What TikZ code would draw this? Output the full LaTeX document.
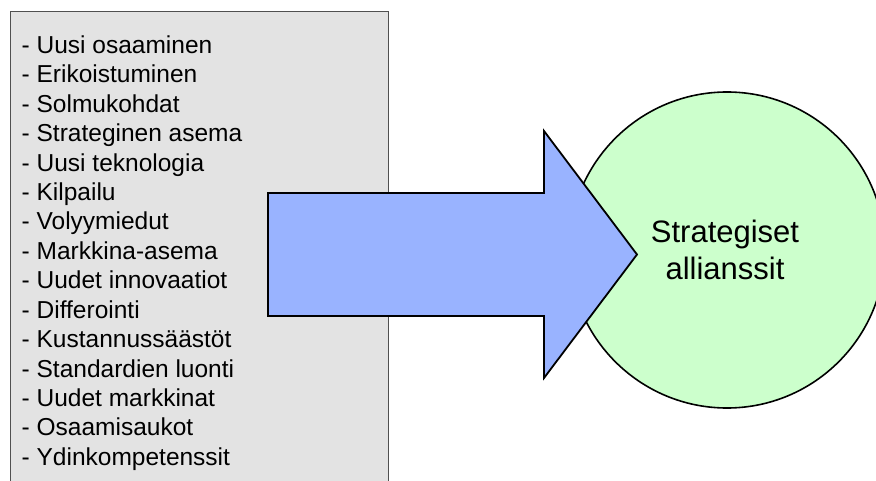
\documentclass[tikz,border=0pt]{standalone}
\usepackage{fontspec}
\setmainfont{Liberation Sans}
\definecolor{boxgray}{HTML}{E3E3E3}
\definecolor{boxedge}{HTML}{505050}
\definecolor{arrowblue}{HTML}{99B3FF}
\definecolor{circgreen}{HTML}{CCFFCC}
\begin{document}
\begin{tikzpicture}[x=1pt,y=-1pt,
  listbox/.style={draw=boxedge, fill=boxgray, line width=1pt, rectangle, inner sep=0pt, anchor=north west},
  itemtext/.style={anchor=base west, inner sep=0pt, font=\fontsize{24.5}{29}\selectfont},
  goalcircle/.style={circle, draw=black, fill=circgreen, line width=1.6pt, inner sep=0pt, minimum size=316pt},
  goaltext/.style={anchor=base, inner sep=0pt, font=\fontsize{31}{37}\selectfont},
  bigarrow/.style={draw=black, fill=arrowblue, line width=1.8pt, line join=miter}
]
\useasboundingbox (0,0) rectangle (876,481);
\clip (0,0) rectangle (876,481);
\node[listbox, minimum width=378pt, minimum height=490pt] (box) at (10,11) {};
\foreach \t [count=\i] in {Uusi osaaminen, Erikoistuminen, Solmukohdat, Strateginen asema, Uusi teknologia, Kilpailu, Volyymiedut, Markkina-asema, Uudet innovaatiot, Differointi, Kustannussäästöt, Standardien luonti, Uudet markkinat, Osaamisaukot, Ydinkompetenssit}
  \node[itemtext] (l\i) at (21.5, {53.3+(\i-1)*29.43}) {- \t};
\node[goalcircle] (ally) at (727,250) {};
\coordinate (a1) at (268,193);
\coordinate (a2) at (544,193);
\coordinate (a3) at (544,131);
\coordinate (tip) at (637,254.5);
\coordinate (a5) at (544,378);
\coordinate (a6) at (544,316);
\coordinate (a7) at (268,316);
\draw[bigarrow] (a1) -- (a2) -- (a3) -- (tip) -- (a5) -- (a6) -- (a7) -- cycle;
\node[goaltext] (t1) at (725,242.7) {Strategiset};
\node[goaltext] (t2) at (725,279.3) {allianssit};
\end{tikzpicture}
\end{document}
